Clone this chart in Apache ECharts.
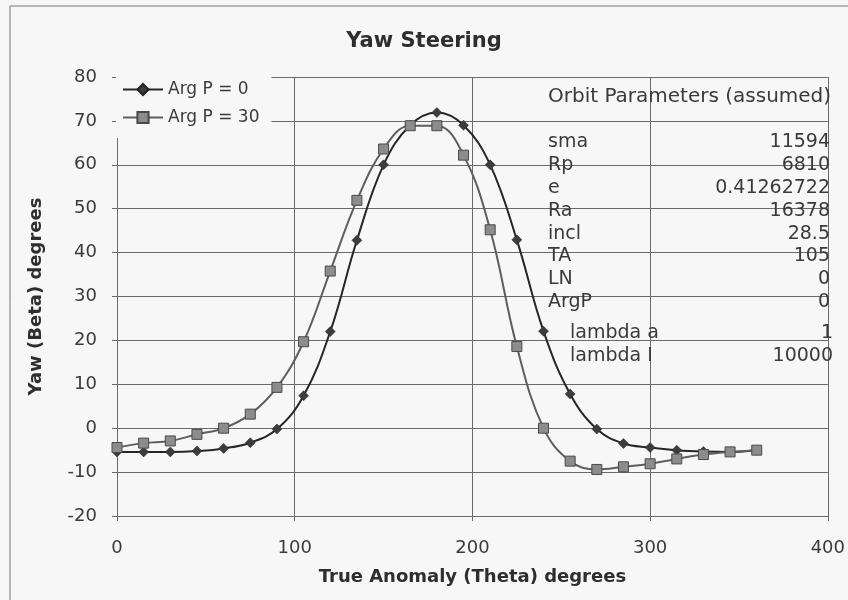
<!DOCTYPE html>
<html>
<head>
<meta charset="utf-8">
<title>Yaw Steering</title>
<script src="https://cdn.jsdelivr.net/npm/echarts@6/dist/echarts.min.js"></script>
<style>
    html, body { margin: 0; padding: 0; background: #f7f7f7; }
    #container { width: 848px; height: 600px; }
</style>
</head>
<body>
<div id="container"></div>
<script>
// true anomaly samples (degrees)
var theta = [0, 15, 30, 45, 60, 75, 90, 105, 120, 135, 150, 165, 180,
    195, 210, 225, 240, 255, 270, 285, 300, 315, 330, 345, 360];

// yaw (beta)
var yawArgP0 = [-5.4, -5.4, -5.4, -5.2, -4.6, -3.3, -0.2, 7.4, 22, 42.8, 60, 69, 71.9,
    69, 60, 42.9, 22.1, 7.8, -0.2, -3.5, -4.4, -5.0, -5.3, -5.4, -5.0];
var yawArgP30 = [-4.4, -3.4, -2.9, -1.4, 0.0, 3.2, 9.3, 19.7, 35.8, 51.9, 63.6, 68.9, 68.9,
    62.2, 45.2, 18.6, 0.0, -7.5, -9.4, -8.8, -8.1, -7.0, -6.0, -5.4, -5.0];

var seriesNames = ['Arg P = 0', 'Arg P = 30'];

// orbit parameter text box
var paramTitle = 'Orbit Parameters (assumed)';
var paramNames = ['sma', 'Rp', 'e', 'Ra', 'incl', 'TA', 'LN', 'ArgP'];
var paramValues = ['11594', '6810', '0.41262722', '16378', '28.5', '105', '0', '0'];
var lambdaNames = ['lambda a', 'lambda I'];
var lambdaValues = ['1', '10000'];

var FONT = '"DejaVu Sans", Verdana, sans-serif';
var TXT = '#3a3a3a';
var GRID = '#6a6a6a';

function pairs(xs, ys) {
    var out = [];
    for (var i = 0; i < xs.length; i++) {
        out.push([xs[i], ys[i]]);
    }
    return out;
}

function label(text, x, y, align, size) {
    return {
        type: 'text', x: x, y: y, z: 10, silent: true,
        style: {text: text, font: size + 'px ' + FONT, fill: TXT,
            align: align, verticalAlign: 'middle'}
    };
}

function textBox() {
    var els = [];
    els.push(label(paramTitle, 548, 97, 'left', 20));
    for (var i = 0; i < paramNames.length; i++) {
        var y = 142 + i * 22.9;
        els.push(label(paramNames[i], 548, y, 'left', 19));
        els.push(label(paramValues[i], 830, y, 'right', 19));
    }
    for (var j = 0; j < lambdaNames.length; j++) {
        var yy = 333 + j * 23;
        els.push(label(lambdaNames[j], 570, yy, 'left', 19));
        els.push(label(lambdaValues[j], 833, yy, 'right', 19));
    }
    // outer chart border
    els.push({
        type: 'rect', z: -1, silent: true,
        shape: {x: 10, y: 6, width: 900, height: 700},
        style: {fill: 'none', stroke: '#777', lineWidth: 1}
    });
    return els;
}

var myChart = echarts.init(document.getElementById('container'));

var option = {
    backgroundColor: '#f7f7f7',
    animation: false,
    title: {
        text: 'Yaw Steering',
        left: 'center',
        top: 26,
        textStyle: {fontFamily: FONT, fontSize: 21, fontWeight: 'bold', color: '#2e2e2e'}
    },
    legend: {
        data: seriesNames,
        orient: 'vertical',
        left: 116,
        top: 76,
        itemWidth: 40,
        itemHeight: 14,
        itemGap: 11,
        padding: [5, 12, 12, 6],
        backgroundColor: '#f7f7f7',
        textStyle: {fontFamily: FONT, fontSize: 17, color: TXT}
    },
    grid: {left: 117, right: 19, top: 77, bottom: 84, containLabel: false},
    xAxis: {
        type: 'value',
        min: 0, max: 400, interval: 100,
        name: 'True Anomaly (Theta) degrees',
        nameLocation: 'middle',
        nameGap: 52,
        nameTextStyle: {fontFamily: FONT, fontSize: 18, fontWeight: 'bold', color: '#2e2e2e'},
        axisLine: {show: true, onZero: false, lineStyle: {color: GRID}},
        axisTick: {show: true, length: 5, lineStyle: {color: GRID}},
        axisLabel: {margin: 23, fontFamily: FONT, fontSize: 18, color: TXT},
        splitLine: {show: true, lineStyle: {color: GRID, width: 1}}
    },
    yAxis: {
        type: 'value',
        min: -20, max: 80, interval: 10,
        name: 'Yaw (Beta) degrees',
        nameLocation: 'middle',
        nameGap: 72,
        nameRotate: 90,
        nameTextStyle: {fontFamily: FONT, fontSize: 18, fontWeight: 'bold', color: '#2e2e2e'},
        axisLine: {show: true, lineStyle: {color: GRID}},
        axisTick: {show: true, length: 5, lineStyle: {color: GRID}},
        axisLabel: {margin: 20, fontFamily: FONT, fontSize: 18, color: TXT},
        splitLine: {show: true, lineStyle: {color: GRID, width: 1}}
    },
    series: [
        {
            name: seriesNames[0],
            type: 'line',
            smooth: 0.4,
            data: pairs(theta, yawArgP0),
            symbol: 'diamond',
            symbolSize: 10,
            lineStyle: {color: '#262626', width: 2},
            itemStyle: {color: '#3c3c3c', borderColor: '#222', borderWidth: 0.5},
            z: 3
        },
        {
            name: seriesNames[1],
            type: 'line',
            smooth: 0.4,
            data: pairs(theta, yawArgP30),
            symbol: 'rect',
            symbolSize: 10,
            lineStyle: {color: '#5e5e5e', width: 2},
            itemStyle: {color: '#8c8c8c', borderColor: '#4a4a4a', borderWidth: 1},
            z: 4
        }
    ],
    graphic: textBox()
};

myChart.setOption(option);
</script>
</body>
</html>
